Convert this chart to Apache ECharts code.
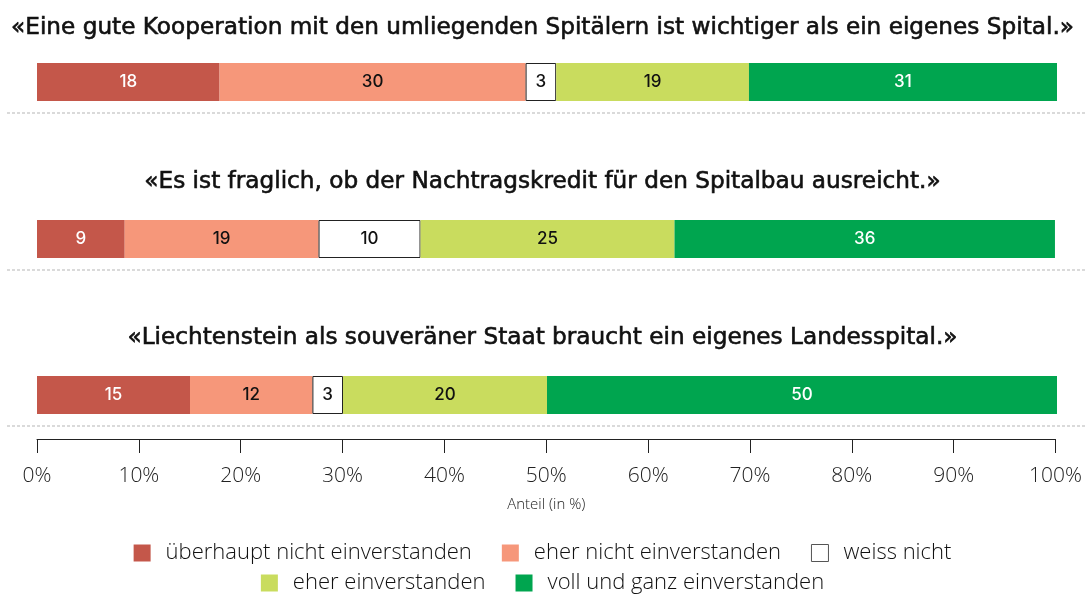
<!DOCTYPE html>
<html>
<head>
<meta charset="utf-8">
<script src="https://cdn.jsdelivr.net/npm/echarts@6/dist/echarts.min.js"></script>
<style>
  html, body { margin: 0; padding: 0; background: #fff; }
  #chart { width: 1085px; height: 599px; }
</style>
</head>
<body>
<div id="chart"></div>
<script>
var questions = [
  "«Eine gute Kooperation mit den umliegenden Spitälern ist wichtiger als ein eigenes Spital.»",
  "«Es ist fraglich, ob der Nachtragskredit für den Spitalbau ausreicht.»",
  "«Liechtenstein als souveräner Staat braucht ein eigenes Landesspital.»"
];
var answers = ["überhaupt nicht einverstanden", "eher nicht einverstanden", "weiss nicht", "eher einverstanden", "voll und ganz einverstanden"];
// bar lengths (in %)
var q1Values = [17.9, 30.0, 3.0, 18.9, 30.2];
var q2Values = [8.6, 19.0, 10.0, 24.9, 37.3];
var q3Values = [15.0, 12.0, 3.0, 20.0, 50.0];
// numbers printed in the bars
var q1Labels = [18, 30, 3, 19, 31];
var q2Labels = [9, 19, 10, 25, 36];
var q3Labels = [15, 12, 3, 20, 50];
var ticks = [0, 10, 20, 30, 40, 50, 60, 70, 80, 90, 100];

var values = [q1Values, q2Values, q3Values];
var labels = [q1Labels, q2Labels, q3Labels];
var colors = ["#c4574a", "#f6977a", "#ffffff", "#c9dc5e", "#00a54f"];
var labelColors = ["#ffffff", "#111111", "#111111", "#111111", "#ffffff"];

var font = "Inter, 'Noto Sans', sans-serif";
var wideFont = "'Open Sans', 'Noto Sans', sans-serif";
var titleFont = "'DejaVu Sans', 'Open Sans', sans-serif";
var gridTops = [63, 220, 376];
var titleTops = [11, 165, 321];
var barH = 38;

var chart = echarts.init(document.getElementById("chart"));

var grids = [], xAxes = [], yAxes = [], series = [], titles = [], lines = [];
gridTops.forEach(function (top, i) {
  grids.push({ left: 37, right: 28, top: top, height: barH });
  xAxes.push({ gridIndex: i, type: "value", min: 0, max: 100, show: false });
  yAxes.push({ gridIndex: i, type: "category", data: ["q" + i], show: false });
  titles.push({
    text: questions[i], left: "center", top: titleTops[i],
    textStyle: {
      fontFamily: titleFont, fontSize: 23.2, fontWeight: "normal", color: "#111",
      textBorderColor: "#111", textBorderWidth: 0.6
    }
  });
  lines.push({
    type: "line", silent: true,
    shape: { x1: 7, y1: top + barH + 12, x2: 1085, y2: top + barH + 12 },
    style: { stroke: "#b5b5b5", lineWidth: 1, lineDash: [3, 2] }
  });
  answers.forEach(function (name, j) {
    series.push({
      name: name, type: "bar", stack: "q" + i,
      xAxisIndex: i, yAxisIndex: i,
      barWidth: "100%",
      data: [values[i][j]],
      itemStyle: {
        color: colors[j],
        borderColor: j === 2 ? "#222" : colors[j],
        borderWidth: j === 2 ? 1 : 0
      },
      label: {
        show: true, position: "inside",
        formatter: function () { return labels[i][j]; },
        color: labelColors[j], fontFamily: font, fontSize: 17, fontWeight: 500
      },
      emphasis: { disabled: true }
    });
  });
});

// axis only grid
grids.push({ left: 37, right: 28, top: 438, height: 1 });
xAxes.push({
  gridIndex: 3, type: "value", min: 0, max: 100, interval: 10, position: "bottom",
  axisLine: { show: true, lineStyle: { color: "#222", width: 1 } },
  axisTick: { show: true, length: 14, lineStyle: { color: "#222" } },
  splitLine: { show: false },
  axisLabel: {
    margin: 27, fontFamily: wideFont, fontSize: 21, fontWeight: 300, color: "#222",
    formatter: function (v) { return ticks.indexOf(v) >= 0 ? v + "%" : ""; }
  },
  name: "Anteil (in %)", nameLocation: "middle", nameGap: 58,
  nameTextStyle: { fontFamily: wideFont, fontSize: 15, fontWeight: 300, color: "#222" }
});
yAxes.push({ gridIndex: 3, type: "category", data: [""], show: false });

var legendText = { fontFamily: wideFont, fontSize: 22, fontWeight: 300, color: "#111", padding: [0, 0, 0, 10] };
var legendData = answers.map(function (name, j) {
  return j === 2 ? { name: name, itemStyle: { color: "#fff", borderColor: "#555", borderWidth: 1 } } : { name: name };
});

chart.setOption({
  animation: false,
  title: titles,
  grid: grids,
  xAxis: xAxes,
  yAxis: yAxes,
  legend: [
    { data: legendData.slice(0, 3), left: "center", top: 537, icon: "rect", itemWidth: 17, itemHeight: 17, itemGap: 30, textStyle: legendText, selectedMode: false },
    { data: legendData.slice(3), left: "center", top: 567, icon: "rect", itemWidth: 17, itemHeight: 17, itemGap: 30, textStyle: legendText, selectedMode: false }
  ],
  graphic: lines,
  series: series
});
</script>
</body>
</html>
